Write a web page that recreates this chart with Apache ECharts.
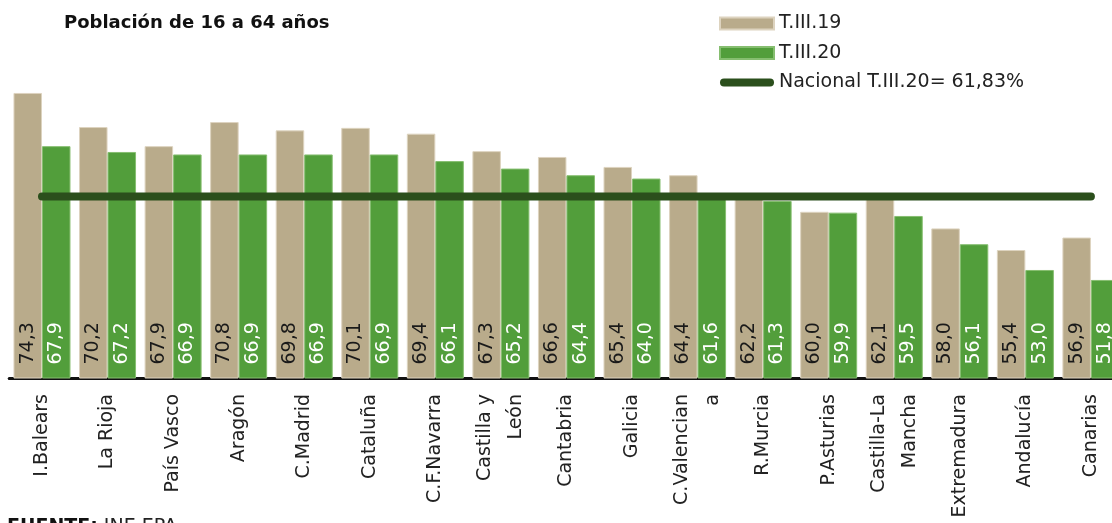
<!DOCTYPE html>
<html>
<head>
<meta charset="utf-8">
<script src="https://cdn.jsdelivr.net/npm/echarts@6/dist/echarts.min.js"></script>
<style>
html,body{margin:0;padding:0;background:#fff;overflow:hidden;width:1112px;height:523px;}
#main{width:1130px;height:523px;}
</style>
</head>
<body>
<div id="main"></div>
<script>
const categories = ['I.Balears','La Rioja','País Vasco','Aragón','C.Madrid','Cataluña','C.F.Navarra','Castilla y\nLeón','Cantabria','Galicia','C.Valencian\na','R.Murcia','P.Asturias','Castilla-La\nMancha','Extremadura','Andalucía','Canarias'];
const t19 = [74.3,70.2,67.9,70.8,69.8,70.1,69.4,67.3,66.6,65.4,64.4,62.2,60.0,62.1,58.0,55.4,56.9];
const t20 = [67.9,67.2,66.9,66.9,66.9,66.9,66.1,65.2,64.4,64.0,61.6,61.3,59.9,59.5,56.1,53.0,51.8];
const nacional = [61.83,61.83,61.83,61.83,61.83,61.83,61.83,61.83,61.83,61.83,61.83,61.83,61.83,61.83,61.83,61.83,61.83];

const FONT = 'DejaVu Sans';
const fmt = p => p.value.toFixed(1).replace('.', ',');

const chart = echarts.init(document.getElementById('main'), null, {renderer:'canvas'});
chart.setOption({
  animation: false,
  backgroundColor: '#ffffff',
  title: {
    text: 'Población de 16 a 64 años',
    left: 59, top: 9,
    textStyle: {fontFamily: FONT, fontSize: 18, fontWeight: 'bold', color: '#111'}
  },
  legend: {
    orient: 'vertical',
    left: 714, top: 9,
    itemWidth: 54, itemHeight: 12, itemGap: 10.5,
    textStyle: {fontFamily: FONT, fontSize: 19, color: '#222'},
    data: [
      {name: 'T.III.19', icon: 'rect'},
      {name: 'T.III.20', icon: 'rect'},
      {name: 'Nacional T.III.20= 61,83%', icon: 'path://M4,0 L50,0 A4,4 0 0 1 50,8 L4,8 A4,4 0 0 1 4,0 Z'}
    ]
  },
  grid: {left: 9.2, width: 1114.5, top: 45.6, height: 332.4, containLabel: false},
  xAxis: {
    type: 'category',
    data: categories,
    boundaryGap: true,
    axisLine: {lineStyle: {color: '#111', width: 3}},
    axisTick: {show: false},
    axisLabel: {
      rotate: 90, interval: 0, margin: 16,
      fontFamily: FONT, fontSize: 19, color: '#222', lineHeight: 31
    }
  },
  yAxis: {
    type: 'value', min: 40, max: 80,
    show: false,
    splitLine: {show: false}
  },
  graphic: [{
    type: 'text', left: 7, top: 518,
    style: {
      text: '{b|FUENTE:} INE EPA',
      rich: {b: {fontWeight: 'bold', fontFamily: FONT, fontSize: 19, fill: '#111'}},
      fontFamily: FONT, fontSize: 19, fill: '#222'
    }
  }],
  series: [
    {
      name: 'T.III.19', type: 'bar', data: t19,
      barWidth: 28.5, barGap: '0%',
      itemStyle: {color: '#b9ab8b', borderColor: '#ddd3bf', borderWidth: 1},
      label: {
        show: true, position: 'insideBottom', rotate: 90, align: 'left', verticalAlign: 'middle',
        distance: 14, formatter: fmt, fontFamily: FONT, fontSize: 19, color: '#1a1a1a'
      }
    },
    {
      name: 'T.III.20', type: 'bar', data: t20,
      barWidth: 28.5,
      itemStyle: {color: '#529e3b', borderColor: '#86be70', borderWidth: 1},
      label: {
        show: true, position: 'insideBottom', rotate: 90, align: 'left', verticalAlign: 'middle',
        distance: 14, formatter: fmt, fontFamily: FONT, fontSize: 19, color: '#ffffff'
      }
    },
    {
      name: 'Nacional T.III.20= 61,83%', type: 'line', data: nacional,
      symbol: 'none', z: 5,
      lineStyle: {color: '#2b4f1c', width: 8, cap: 'round'},
      itemStyle: {color: '#2b4f1c'}
    }
  ]
});
</script>
</body>
</html>
